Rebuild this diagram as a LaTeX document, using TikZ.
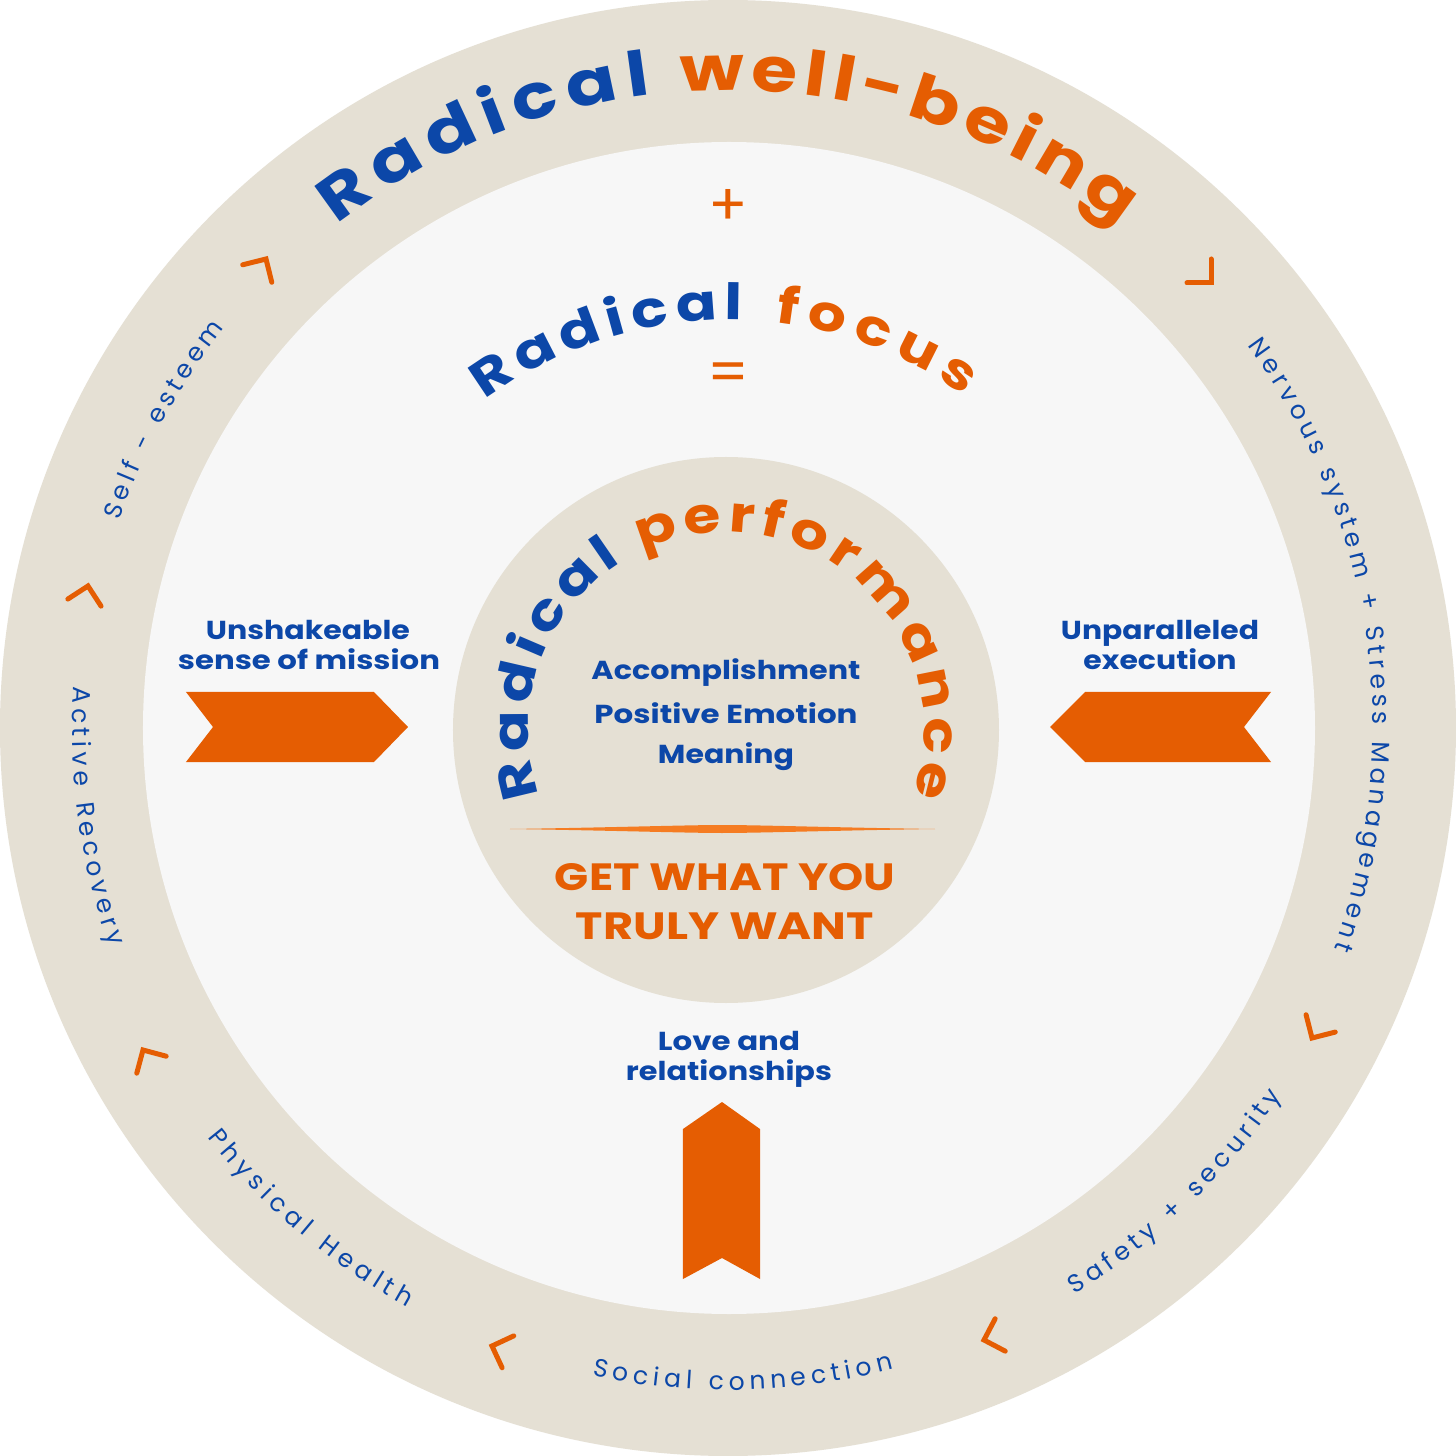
\documentclass[tikz,border=0pt]{standalone}
\usepackage{fontspec}
\usepackage{graphicx}
\setmainfont{Poppins}
\usetikzlibrary{calc}
\definecolor{blueC}{RGB}{12,71,168}
\definecolor{orangeC}{RGB}{229,93,2}
\definecolor{ringC}{RGB}{229,224,212}
\definecolor{innerC}{RGB}{247,247,247}
\definecolor{lineC}{RGB}{245,124,34}
\newcommand\fsz[1]{\fontsize{#1}{#1}\selectfont}
\newdimen\chd
\def\atxs{1}
\newcommand\measurech[2]{\pgfinterruptpicture\setbox0=\hbox{#1\scalebox{\atxs}[1]{#2}}\global\chd=\wd0\endpgfinterruptpicture}
% #1 centre, #2 baseline radius (pt), #3 angle of first char, #4 angle of last char, #5 font, #6 chars
\newcommand\arctext[6]{%
  \xdef\atsum{0}\xdef\atn{0}\xdef\atfirst{0}\xdef\atlast{0}%
  \foreach \ch in {#6}{%
    \measurech{#5}{\ch}%
    \pgfmathsetmacro\tmpa{\atsum+\chd}\xdef\atsum{\tmpa}%
    \pgfmathtruncatemacro\tmpb{\atn+1}\xdef\atn{\tmpb}%
    \pgfmathsetmacro\tmpw{\chd}%
    \ifnum\atn=1 \xdef\atfirst{\tmpw}\fi
    \xdef\atlast{\tmpw}%
  }%
  \pgfmathsetmacro\atdir{((#4)>(#3))?1:-1}%
  \pgfmathsetmacro\attrack{(abs((#4)-(#3))*pi/180*(#2)-(\atsum-\atfirst/2-\atlast/2))/(\atn-1)}%
  \pgfmathsetmacro\tmpc{-\atfirst/2}\xdef\atpos{\tmpc}%
  \foreach \ch in {#6}{%
    \measurech{#5}{\ch}%
    \pgfmathsetmacro\atmid{\atpos+\chd/2}%
    \pgfmathsetmacro\atang{(#3)+\atdir*\atmid/(#2)*180/pi}%
    \pgfmathsetmacro\atrot{\atang+\atdir*90}%
    \node[anchor=base, rotate=\atrot, inner sep=0pt, outer sep=0pt, font={#5}] at ($(#1)+(\atang:#2pt)$) {\scalebox{\atxs}[1]{\ch}};
    \pgfmathsetmacro\tmpd{\atpos+\chd+\attrack}\xdef\atpos{\tmpd}%
  }%
}
\newcommand\chev[3]{\draw[chevron] ($(#1,#2)+(#3+135:24pt)$) -- (#1,#2) -- ($(#1,#2)+(#3-135:24pt)$);}
\tikzset{
  chevron/.style={draw=orangeC, line width=5pt, line cap=round, line join=miter},
  ribbon/.style={fill=orangeC, draw=none},
  bluetext/.style={anchor=base, inner sep=0pt, text=blueC, font=\bfseries\fsz{26}},
  gettext/.style={anchor=base, inner sep=0pt, text=orangeC, font=\bfseries\fsz{38}},
}
\begin{document}
\begin{tikzpicture}[x=1pt,y=1pt]
\useasboundingbox (-728,-728) rectangle (728,728);
\fill[white] (-728,-728) rectangle (728,728);
\coordinate (O) at (0,0);
\coordinate (I) at (1,0);
\coordinate (P) at (-2,-2);
% circles
\fill[ringC] (O) circle (728pt);
\fill[innerC] (I) circle (586pt);
\fill[ringC] (P) circle (273pt);

% ring texts
\def\atxs{1.2}
\arctext{O}{638}{125.7}{97.9}{\bfseries\fsz{62}\color{blueC}}{R,a,d,i,c,a,l}
\arctext{O}{638}{91.4}{54.3}{\bfseries\fsz{62}\color{orangeC}}{w,e,l,l,-,b,e,i,n,g}
\def\atxs{1}
\arctext{O}{643}{160.5}{142.7}{\fsz{25}\color{blueC}}{S,e,l,f,~,-,~,e,s,t,e,e,m}
\arctext{O}{645}{35.6}{-19.6}{\fsz{25}\color{blueC}}{N,e,r,v,o,u,s,~,s,y,s,t,e,m,~,+,~,S,t,r,e,s,s,~,M,a,n,a,g,e,m,e,n,t}
\arctext{O}{656}{177.1}{198.9}{\fsz{25}\color{blueC}}{A,c,t,i,v,e,~,R,e,c,o,v,e,r,y}
\arctext{O}{662}{218.8}{240.3}{\fsz{25}\color{blueC}}{P,h,y,s,i,c,a,l,~,H,e,a,l,t,h}
\arctext{O}{662}{258.8}{283.8}{\fsz{25}\color{blueC}}{S,o,c,i,a,l,~,c,o,n,n,e,c,t,i,o,n}
\arctext{O}{664}{302.1}{325.8}{\fsz{25}\color{blueC}}{S,a,f,e,t,y,~,+,~,s,e,c,u,r,i,t,y}

% chevrons
\chev{-462}{469}{59}
\chev{483}{445}{-45}
\chev{584}{-310}{-120.7}
\chev{256}{-612}{-162.7}
\chev{-236}{-618}{160}
\chev{-585}{-322}{120}
\chev{-640}{142}{78}

% + and =
\node[text=orangeC, font=\fsz{58}, inner sep=0pt] (plus) at (0,521) {+};
\node[text=orangeC, font=\fsz{58}, inner sep=0pt] (eq) at (0,350) {=};

% Radical focus
\def\atxs{1.2}
\arctext{O}{408}{123.8}{89.2}{\bfseries\fsz{50}\color{blueC}}{R,a,d,i,c,a,l}
\arctext{O}{408}{81.8}{56.9}{\bfseries\fsz{50}\color{orangeC}}{f,o,c,u,s}

% Radical performance
\arctext{P}{198}{193.5}{124.6}{\bfseries\fsz{50}\color{blueC}}{R,a,d,i,c,a,l}
\arctext{P}{198}{109.2}{-13.8}{\bfseries\fsz{50}\color{orangeC}}{p,e,r,f,o,r,m,a,n,c,e}

% centre texts
\node[bluetext] (acc) at (-2,48) {\resizebox{269pt}{\height}{Accomplishment}};
\node[bluetext] (pos) at (-2,5) {\resizebox{263pt}{\height}{Positive Emotion}};
\node[bluetext] (mea) at (-2,-35) {\resizebox{136pt}{\height}{Meaning}};
\fill[lineC] (-218,-101) .. controls (-120,-99.6) and (-40,-97) .. (-6,-97) .. controls (30,-97) and (110,-99.6) .. (207,-101) .. controls (110,-102.4) and (30,-105) .. (-6,-105) .. controls (-40,-105) and (-120,-102.4) .. (-218,-101) -- cycle;
\node[gettext] (get1) at (-3,-162) {\resizebox{340pt}{\height}{GET WHAT YOU}};
\node[gettext] (get2) at (-3,-211) {\resizebox{298pt}{\height}{TRULY WANT}};

% side labels
\node[bluetext] (uns1) at (-420,88) {\resizebox{204pt}{\height}{Unshakeable}};
\node[bluetext] (uns2) at (-419,58) {\resizebox{262pt}{\height}{sense of mission}};
\node[bluetext] (unp1) at (432,88) {\resizebox{198pt}{\height}{Unparalleled}};
\node[bluetext] (unp2) at (432,58) {\resizebox{153pt}{\height}{execution}};
\node[bluetext] (love1) at (1,-322) {\resizebox{142pt}{\height}{Love and}};
\node[bluetext] (love2) at (1,-352) {\resizebox{206pt}{\height}{relationships}};

% ribbons
\fill[ribbon] (-542,36) -- (-354,36) -- (-320,1) -- (-354,-34) -- (-542,-34) -- (-515,1) -- cycle;
\fill[ribbon] (543,36) -- (357,36) -- (322,1) -- (357,-34) -- (543,-34) -- (516,1) -- cycle;
\fill[ribbon] (-6,-374) -- (32,-401) -- (32,-551) -- (-6,-530) -- (-45,-551) -- (-45,-401) -- cycle;
\end{tikzpicture}
\end{document}
